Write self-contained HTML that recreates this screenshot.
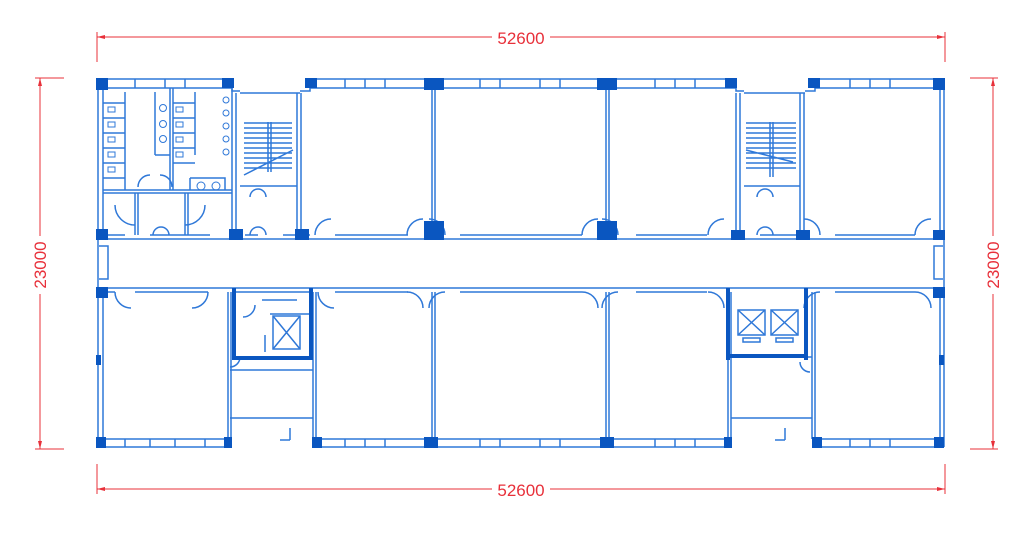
<!DOCTYPE html>
<html><head><meta charset="utf-8"><style>
html,body{margin:0;padding:0;background:#fff;width:1024px;height:540px;overflow:hidden}
svg{display:block}
</style></head><body>
<svg width="1024" height="540" viewBox="0 0 1024 540" xmlns="http://www.w3.org/2000/svg">
<!-- dimensions -->
<g stroke="#e8303a" stroke-width="1" fill="none">
<line x1="97" y1="37" x2="945" y2="37"/>
<line x1="97" y1="32" x2="97" y2="62"/><line x1="945" y1="32" x2="945" y2="62"/>
<line x1="97" y1="489" x2="945" y2="489"/>
<line x1="97" y1="464" x2="97" y2="494"/><line x1="945" y1="464" x2="945" y2="494"/>
<line x1="40" y1="78" x2="40" y2="449"/>
<line x1="35" y1="78" x2="64" y2="78"/><line x1="35" y1="449" x2="64" y2="449"/>
<line x1="993" y1="78" x2="993" y2="449"/>
<line x1="970" y1="78" x2="998" y2="78"/><line x1="970" y1="449" x2="998" y2="449"/>
</g>
<g fill="#e8303a">
<path d="M97,37 l8,-2 v4z"/><path d="M945,37 l-8,-2 v4z"/>
<path d="M97,489 l8,-2 v4z"/><path d="M945,489 l-8,-2 v4z"/>
<path d="M40,78 l-2,8 h4z"/><path d="M40,449 l-2,-8 h4z"/>
<path d="M993,78 l-2,8 h4z"/><path d="M993,449 l-2,-8 h4z"/>
</g>
<g font-family="Liberation Sans, sans-serif" font-size="17" fill="#e8303a" text-anchor="middle">
<rect x="492" y="28" width="58" height="18" fill="#fff"/>
<text x="521" y="44">52600</text>
<rect x="492" y="480" width="58" height="18" fill="#fff"/>
<text x="521" y="496">52600</text>
<rect x="31" y="236" width="18" height="58" fill="#fff"/>
<text transform="translate(46,265) rotate(-90)">23000</text>
<rect x="984" y="236" width="18" height="58" fill="#fff"/>
<text transform="translate(999,265) rotate(-90)">23000</text>
</g>

<!-- walls -->
<g stroke="#2f78d8" stroke-width="1.5" fill="none">
<path d="M97,79 H232 M97,88 H232 M310,79 H736 M310,88 H736 M815,79 H944 M815,88 H944"/>
<path d="M232,79 v12 h8 M300,91 h10 v-12 M736,79 v12 h8 M805,91 h10 v-12 M240,93 H300 M744,93 H805"/>
<path d="M135,79v9 M165,79v9 M185,79v9 M345,79v9 M365,79v9 M385,79v9 M480,79v9 M500,79v9 M540,79v9 M560,79v9 M655,79v9 M675,79v9 M695,79v9 M850,79v9 M870,79v9 M890,79v9"/>
<path d="M97,439 H230 M97,447 H230 M313,439 H728 M313,447 H728 M812,439 H944 M812,447 H944"/>
<path d="M125,439v8 M150,439v8 M175,439v8 M205,439v8 M345,439v8 M365,439v8 M385,439v8 M480,439v8 M500,439v8 M540,439v8 M560,439v8 M655,439v8 M675,439v8 M695,439v8 M850,439v8 M870,439v8 M890,439v8"/>
<path d="M98,79 V447 M103,88 V232 M103,296 V439 M940,88 V232 M940,296 V439 M944,79 V447"/>
<path d="M99,246 h9 v33 h-9 M943,246 h-9 v33 h9"/>
<path d="M103,235 H125 M150,235 H210 M245,235 H258 M283,235 H310 M335,235 H408 M460,235 H582 M636,235 H707 M760,235 H800 M835,235 H915 M103,239 H940"/>
<path d="M103,292 H115 M135,292 H208 M235,292 H310 M335,292 H408 M460,292 H582 M636,292 H707 M835,292 H915 M103,288 H940"/>
<path d="M232,88 V235 M236,93 V235 M297,93 V235 M301,93 V235 M432,88 V235 M435,88 V235 M606,88 V235 M609,88 V235 M736,93 V235 M740,93 V235 M800,93 V235 M804,93 V235"/>
<path d="M228,292 V439 M231,292 V439 M313,292 V439 M316,292 V439 M432,292 V439 M435,292 V439 M606,292 V439 M609,292 V439 M728,292 V439 M731,292 V439 M812,292 V439 M815,292 V439"/>
<path d="M103,190 H232 M103,193 H232 M170,88 V190 M173,88 V190 M135,193 V235 M138,193 V235 M185,193 V235 M188,193 V235"/>
<path d="M103,103 H125 M103,118 H125 M103,133 H125 M103,148 H125 M103,163 H125 M103,178 H125 M125,92 V190"/>
<path d="M173,103 H195 M173,118 H195 M173,133 H195 M173,148 H195 M173,163 H195 M195,92 V155 M155,92 V155 M155,155 H170"/>
<path d="M190,178 H225 V190 M190,178 V190"/>
<path d="M150,175 a12,12 0 0 0 -12,12 M160,175 a12,12 0 0 1 12,12"/>
<path d="M115,205 a20,20 0 0 0 20,20 M205,205 a20,20 0 0 1 -20,20"/>
<path d="M153,235 a8,8 0 0 1 8,-8 M169,235 a8,8 0 0 0 -8,-8 M250,235 a8,8 0 0 1 8,-8 M266,235 a8,8 0 0 0 -8,-8 M250,197 a8,8 0 0 1 8,-8 M266,197 a8,8 0 0 0 -8,-8"/>
<path d="M315,235 a16,16 0 0 1 16,-16 M407,235 a16,16 0 0 1 16,-16 M445,235 a16,16 0 0 0 -16,-16 M582,235 a16,16 0 0 1 16,-16 M618,235 a16,16 0 0 0 -16,-16 M708,235 a16,16 0 0 1 16,-16 M820,235 a16,16 0 0 0 -16,-16 M915,235 a16,16 0 0 1 16,-16"/>
<path d="M757,235 a8,8 0 0 1 8,-8 M773,235 a8,8 0 0 0 -8,-8 M757,197 a8,8 0 0 1 8,-8 M773,197 a8,8 0 0 0 -8,-8"/>
<path d="M115,292 a16,16 0 0 0 16,16 M208,292 a16,16 0 0 1 -16,16 M318,292 a16,16 0 0 0 16,16 M407,292 a16,16 0 0 1 16,16 M445,292 a16,16 0 0 0 -16,16 M582,292 a16,16 0 0 1 16,16 M618,292 a16,16 0 0 0 -16,16 M708,292 a16,16 0 0 1 16,16 M820,292 a16,16 0 0 0 -16,16 M915,292 a16,16 0 0 1 16,16"/>
<path d="M255,305 a12,12 0 0 1 -12,12 M230,367 a10,10 0 0 0 10,-10 M800,362 a10,10 0 0 0 10,10"/>
<path d="M244,123 H292 M244,128 H292 M244,133 H292 M244,138 H292 M244,143 H292 M244,148 H292 M244,153 H292 M244,158 H292 M244,163 H292 M244,168 H292 M268,122 V172 M271,122 V172 M244,175 L293,150"/>
<path d="M746,123 H796 M746,128 H796 M746,133 H796 M746,138 H796 M746,143 H796 M746,148 H796 M746,153 H796 M746,158 H796 M746,163 H796 M746,168 H796 M770,122 V177 M773,122 V177 M746,150 L793,162"/>
<path d="M240,186 H297 M744,186 H800 M230,370 H313 M728,357 H812 M230,418 H313 M731,418 H812"/>
<rect x="273" y="316" width="27" height="33"/><path d="M273,316 L300,349 M300,316 L273,349"/>
<path d="M270,314 H312 M262,300 H297 M265,335 V352"/>
<rect x="738" y="310" width="27" height="25"/><path d="M738,310 L765,335 M765,310 L738,335"/>
<rect x="771" y="310" width="27" height="25"/><path d="M771,310 L798,335 M798,310 L771,335"/>
<rect x="743" y="338" width="17" height="4"/><rect x="776" y="338" width="17" height="4"/>
<path d="M290,428 V440 M280,440 H290 M785,428 V440 M775,440 H785"/>
</g>
<!-- toilet fixtures -->
<g stroke="#2f78d8" stroke-width="1" fill="none">
<rect x="108" y="107" width="7" height="5"/><rect x="108" y="122" width="7" height="5"/><rect x="108" y="137" width="7" height="5"/><rect x="108" y="152" width="7" height="5"/><rect x="108" y="167" width="7" height="5"/>
<rect x="176" y="107" width="7" height="5"/><rect x="176" y="122" width="7" height="5"/><rect x="176" y="137" width="7" height="5"/><rect x="176" y="152" width="7" height="5"/>
<circle cx="163" cy="108" r="3.5"/><circle cx="163" cy="124" r="3.5"/><circle cx="163" cy="139" r="3.5"/>
<circle cx="226" cy="100" r="3"/><circle cx="226" cy="113" r="3"/><circle cx="226" cy="126" r="3"/><circle cx="226" cy="139" r="3"/><circle cx="226" cy="152" r="3"/>
<circle cx="201" cy="186" r="4"/><circle cx="216" cy="186" r="4"/>
</g>
<!-- thick elevator walls -->
<g fill="#0a56c0">
<rect x="232" y="288" width="4" height="72"/><rect x="309" y="288" width="4" height="72"/><rect x="232" y="356" width="81" height="4"/>
<rect x="726" y="288" width="4" height="72"/><rect x="804" y="288" width="4" height="72"/><rect x="726" y="354" width="82" height="4"/>
</g>
<!-- columns -->
<g fill="#0a56c0">
<rect x="96" y="78" width="12" height="12"/><rect x="222" y="78" width="12" height="10"/><rect x="305" y="78" width="12" height="10"/><rect x="424" y="78" width="20" height="12"/><rect x="597" y="78" width="20" height="12"/><rect x="725" y="78" width="12" height="10"/><rect x="808" y="78" width="12" height="10"/><rect x="933" y="78" width="12" height="12"/>
<rect x="96" y="229" width="12" height="11"/><rect x="229" y="229" width="14" height="11"/><rect x="295" y="229" width="14" height="11"/><rect x="424" y="221" width="20" height="19"/><rect x="597" y="221" width="20" height="19"/><rect x="731" y="230" width="14" height="10"/><rect x="796" y="230" width="14" height="10"/><rect x="933" y="230" width="12" height="10"/>
<rect x="96" y="287" width="12" height="11"/><rect x="933" y="287" width="12" height="11"/>
<rect x="96" y="355" width="5" height="10"/><rect x="939" y="355" width="5" height="10"/>
<rect x="96" y="437" width="10" height="11"/><rect x="224" y="437" width="8" height="11"/><rect x="312" y="437" width="10" height="11"/><rect x="424" y="437" width="14" height="11"/><rect x="600" y="437" width="14" height="11"/><rect x="724" y="437" width="8" height="11"/><rect x="812" y="437" width="10" height="11"/><rect x="934" y="437" width="10" height="11"/>
</g>
</svg>
</body></html>
